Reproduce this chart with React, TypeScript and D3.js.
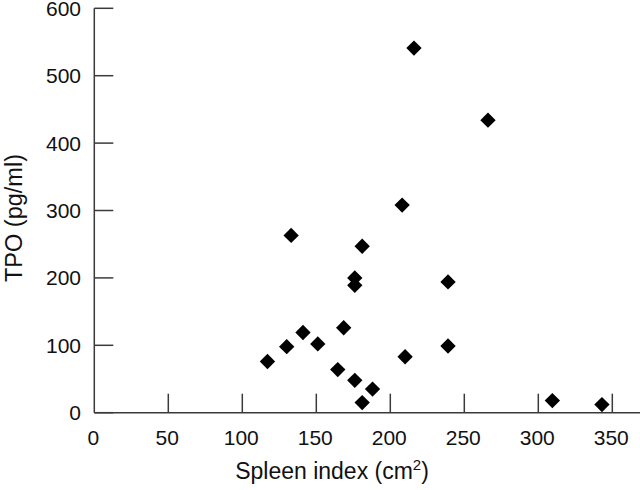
import React from "react";
import * as d3 from "d3";

const spleenIndex = [117, 130, 133, 141, 151, 164.5, 168.5, 176, 176, 176, 181, 181, 188, 208, 210, 216, 239, 239, 266, 309.5, 343];
const tpo = [76, 98, 263, 119, 102, 64, 126, 200, 189, 48, 15, 247, 35, 308, 83, 541, 194, 99, 434, 18, 12];
const xTicks = [0, 50, 100, 150, 200, 250, 300, 350];
const yTicks = [0, 100, 200, 300, 400, 500, 600];

const W = 640;
const H = 490;

export default function App() {
  const x = d3.scaleLinear().domain([0, 350]).range([94.3, 612.3]);
  const y = d3.scaleLinear().domain([0, 600]).range([412.7, 8.3]);
  const axisColor = "#3a3a3a";
  const font = "'Liberation Sans', Arial, Helvetica, sans-serif";
  const diamond = d3.symbol().type(d3.symbolDiamond2).size(150)();
  const pts = spleenIndex.map((v, i) => ({ x: v, y: tpo[i] }));
  return (
    <svg width={W} height={H} style={{ position: "absolute", left: 0, top: 0, background: "#fff" }} fontFamily={font}>
      <rect width={W} height={H} fill="#fff" />
      {/* axes */}
      <line x1={x(0)} x2={x(0)} y1={y(600)} y2={y(0)} stroke={axisColor} strokeWidth={1.5} />
      <line x1={x(0)} x2={W} y1={y(0)} y2={y(0)} stroke={axisColor} strokeWidth={1.5} />
      {yTicks.map((t) => (
        <g key={"y" + t}>
          <line x1={x(0)} x2={x(0) + 19} y1={y(t)} y2={y(t)} stroke={axisColor} strokeWidth={1.5} />
          <text x={81} y={y(t)} dy="0.36em" textAnchor="end" fontSize={21} fill="#111">{t}</text>
        </g>
      ))}
      {xTicks.map((t) => (
        <g key={"x" + t}>
          {t > 0 && <line x1={x(t)} x2={x(t)} y1={y(0)} y2={y(0) - 19} stroke={axisColor} strokeWidth={1.5} />}
          <text x={x(t) - 1} y={444.5} textAnchor="middle" fontSize={21} fill="#111">{t}</text>
        </g>
      ))}
      {/* points */}
      {pts.map((p, i) => (
        <path key={i} d={diamond!} transform={`translate(${x(p.x)},${y(p.y)})`} fill="#000" />
      ))}
      {/* titles */}
      <text x={332} y={479} textAnchor="middle" fontSize={23} fill="#111">
        Spleen index (cm<tspan dy={-9} fontSize={15}>2</tspan><tspan dy={9}>)</tspan>
      </text>
      <text transform={`translate(22,218) rotate(-90)`} textAnchor="middle" fontSize={23.5} fill="#111">TPO (pg/ml)</text>
    </svg>
  );
}
